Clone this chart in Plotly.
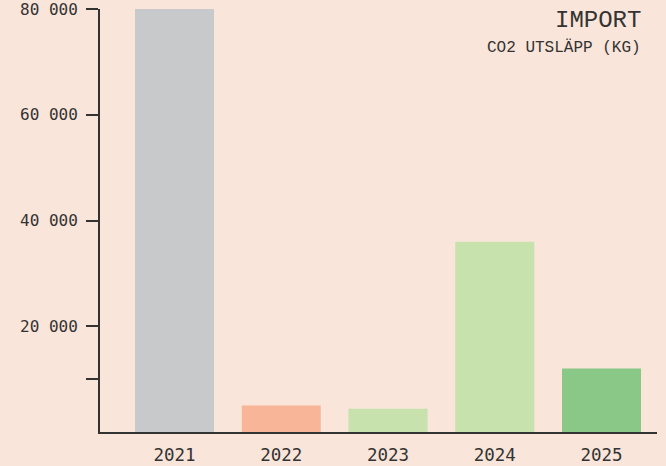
import plotly.graph_objects as go

years = ["2021", "2022", "2023", "2024", "2025"]
values = [80000, 5000, 4400, 36000, 12000]
colors = ["#C8C9CB", "#F8B598", "#C8E2AE", "#C8E2AE", "#8AC887"]
tick_vals = [10000, 20000, 40000, 60000, 80000]
tick_text = ["", "20 000", "40 000", "60 000", "80 000"]

bg = "#F9E5D9"
ink = "#333333"
mono = "Liberation Mono"
tickmono = "DejaVu Sans Mono"

fig = go.Figure(go.Bar(x=years, y=values, marker=dict(color=colors, line=dict(width=0)),
                       width=0.74, hoverinfo="x+y"))

fig.update_layout(
    width=666, height=466,
    paper_bgcolor=bg, plot_bgcolor=bg,
    margin=dict(l=100, r=9, t=9, b=34),
    showlegend=False,
    font=dict(family=mono, color=ink),
    annotations=[
        dict(text="IMPORT", xref="paper", yref="paper", x=0.975, y=1.01, xanchor="right",
             yanchor="top", showarrow=False, font=dict(size=24, color=ink, family=mono)),
        dict(text="CO2 UTSLÄPP (KG)", xref="paper", yref="paper", x=0.975, y=0.935,
             xanchor="right", yanchor="top", showarrow=False,
             font=dict(size=16, color=ink, family=mono)),
    ],
)
fig.update_xaxes(
    type="category", range=[-0.698, 4.52], showline=True, linecolor=ink, linewidth=2,
    ticks="", showgrid=False, zeroline=False, tickfont=dict(size=17.5, color=ink, family=tickmono),
    ticklabelstandoff=6, automargin=False,
)
fig.update_yaxes(
    range=[0, 80000], showline=True, linecolor=ink, linewidth=2, ticks="outside",
    ticklen=12, tickwidth=2, tickcolor=ink, tickvals=tick_vals, ticktext=tick_text,
    showgrid=False, zeroline=False, tickfont=dict(size=16, color=ink, family=tickmono),
    ticklabelstandoff=5, automargin=False, ticklabeloverflow="allow",
)

fig.write_html("out.html", config={"displayModeBar": False},
               post_script="document.body.style.margin='0';document.body.style.background='%s';" % bg)
